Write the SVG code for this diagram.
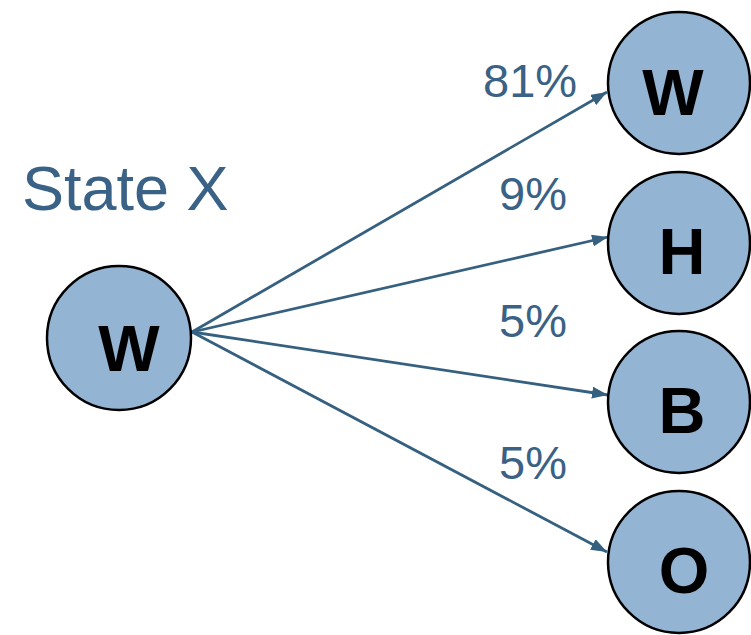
<svg xmlns="http://www.w3.org/2000/svg" width="751" height="635" viewBox="0 0 751 635">
  <defs>
    <marker id="arrow" viewBox="0 0 16 12" refX="16" refY="6" markerWidth="16" markerHeight="12" markerUnits="userSpaceOnUse" orient="auto">
      <path d="M0,0 L16,6 L0,12 Z" fill="#36607f"/>
    </marker>
    <style>
      .node circle { fill: #93b5d3; stroke: #000; stroke-width: 2.5; }
      .node text { font-family: "Liberation Sans", Arial, sans-serif; font-weight: bold; font-size: 65px; fill: #000; text-anchor: middle; }
      .edge { stroke: #36607f; stroke-width: 2.8; fill: none; marker-end: url(#arrow); }
      .label { font-family: "Liberation Sans", Arial, sans-serif; font-size: 47px; fill: #3a6186; }
      .title { font-family: "Liberation Sans", Arial, sans-serif; font-size: 63px; fill: #3a6186; }
    </style>
  </defs>

  <text class="title" x="22" y="210">State X</text>

  <g id="connectors">
    <line class="edge" x1="192" y1="332" x2="607" y2="92"/>
    <line class="edge" x1="192" y1="332" x2="608" y2="237"/>
    <line class="edge" x1="192" y1="332" x2="608" y2="395"/>
    <line class="edge" x1="192" y1="332" x2="607" y2="552"/>
  </g>

  <g id="edge-labels">
    <text class="label" x="483" y="97">81%</text>
    <text class="label" x="499" y="210">9%</text>
    <text class="label" x="499" y="337">5%</text>
    <text class="label" x="499" y="479">5%</text>
  </g>

  <g id="node-src" class="node">
    <circle cx="119" cy="338" r="72"/>
    <text x="129" y="371">W</text>
  </g>
  <g id="node-w" class="node">
    <circle cx="679" cy="83" r="71"/>
    <text x="673" y="115">W</text>
  </g>
  <g id="node-h" class="node">
    <circle cx="679" cy="243" r="71"/>
    <text x="682" y="274">H</text>
  </g>
  <g id="node-b" class="node">
    <circle cx="679" cy="402" r="71"/>
    <text x="682" y="433">B</text>
  </g>
  <g id="node-o" class="node">
    <circle cx="679" cy="562" r="71"/>
    <text x="684" y="593">O</text>
  </g>
</svg>
